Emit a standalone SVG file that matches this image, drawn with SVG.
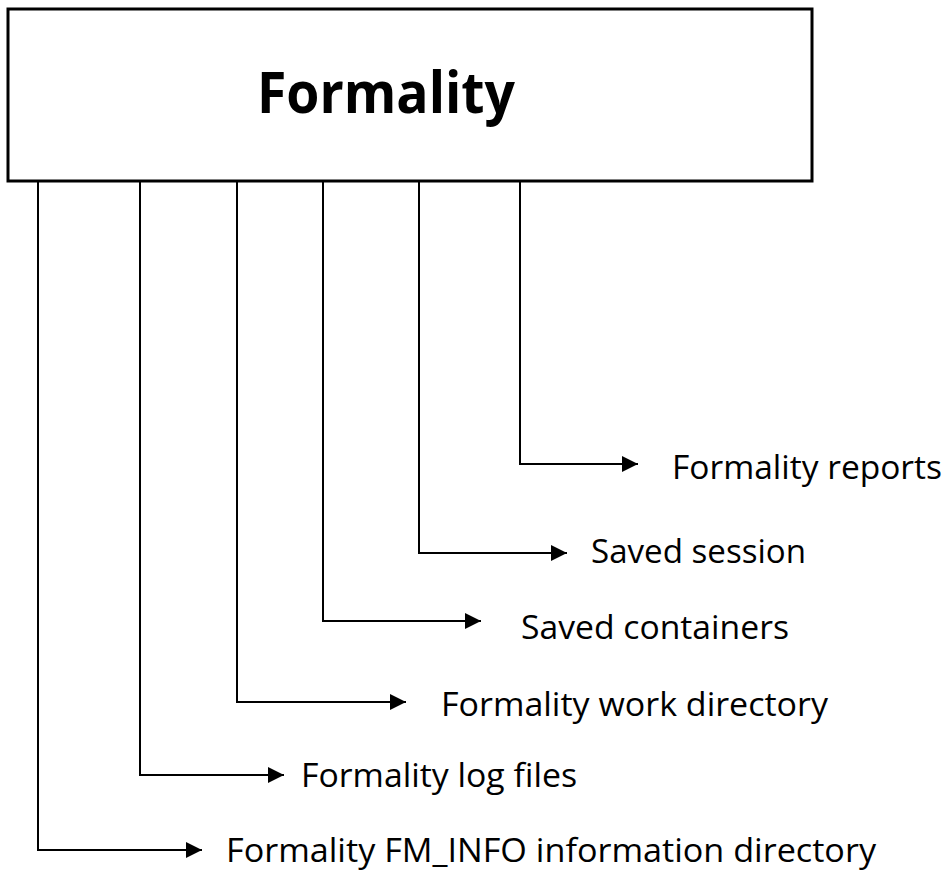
<svg xmlns="http://www.w3.org/2000/svg" width="948" height="873" viewBox="0 0 948 873">
<style>
.box{fill:#fff;stroke:#000;stroke-width:3}
.title{font-family:"Open Sans","DejaVu Sans",sans-serif;font-weight:bold;font-size:58px;fill:#000}
.lbl{font-family:"Open Sans","DejaVu Sans",sans-serif;font-size:33px;fill:#000}
.conn{fill:none;stroke:#000;stroke-width:2}
</style>
<defs>
<marker id="arr" markerUnits="userSpaceOnUse" markerWidth="18" markerHeight="18" refX="16" refY="8" orient="auto">
<path d="M0,0 L16,8 L0,16 Z" fill="#000"/>
</marker>
</defs>
<rect width="948" height="873" fill="#fff"/>
<g id="connectors">
<path class="conn" d="M38,182 V850 H202" marker-end="url(#arr)"/>
<path class="conn" d="M140,182 V775 H284" marker-end="url(#arr)"/>
<path class="conn" d="M237,182 V702 H406" marker-end="url(#arr)"/>
<path class="conn" d="M323,182 V621 H481" marker-end="url(#arr)"/>
<path class="conn" d="M419,182 V553 H567" marker-end="url(#arr)"/>
<path class="conn" d="M520,182 V464 H638" marker-end="url(#arr)"/>
</g>
<g id="formality">
<rect class="box" x="8" y="9" width="804" height="172"/>
<text class="title" x="257" y="113" textLength="258" lengthAdjust="spacingAndGlyphs">Formality</text>
</g>
<g id="reports"><text class="lbl" x="672" y="479" textLength="270" lengthAdjust="spacingAndGlyphs">Formality reports</text></g>
<g id="session"><text class="lbl" x="591" y="563" textLength="215" lengthAdjust="spacingAndGlyphs">Saved session</text></g>
<g id="containers"><text class="lbl" x="521" y="639" textLength="268" lengthAdjust="spacingAndGlyphs">Saved containers</text></g>
<g id="workdir"><text class="lbl" x="441" y="716" textLength="387" lengthAdjust="spacingAndGlyphs">Formality work directory</text></g>
<g id="logfiles"><text class="lbl" x="301" y="787" textLength="276" lengthAdjust="spacingAndGlyphs">Formality log files</text></g>
<g id="fminfo"><text class="lbl" x="226" y="862" textLength="650" lengthAdjust="spacingAndGlyphs">Formality FM_INFO information directory</text></g>
</svg>
